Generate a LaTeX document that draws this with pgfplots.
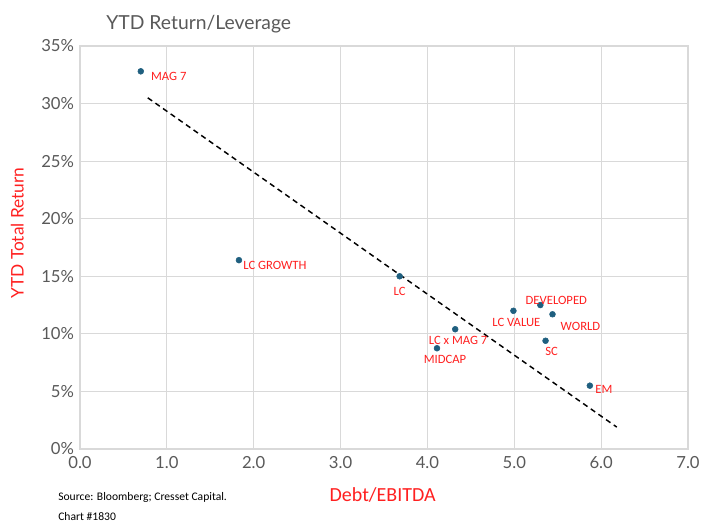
\documentclass[border=0pt]{standalone}
\usepackage{pgfplots}
\usepackage{pgfplotstable}
\pgfplotsset{compat=1.18}
\usepackage{fontspec}
\setmainfont{Lato}
\newfontfamily\lblfont{Carlito}
\definecolor{dotc}{HTML}{1F5F7F}
\definecolor{lblred}{HTML}{FF2020}
\definecolor{tickc}{HTML}{595959}
\definecolor{gridc}{HTML}{D9D9D9}

\pgfplotstableread[col sep=comma]{
x,y,dx,dy,label
0.70,32.8,21.0,-3.8,MAG 7
1.83,16.4,27.0,-4.3,LC GROWTH
3.68,15.0,0.0,-11.5,LC
4.32,10.4,2.2,-8.3,LC x MAG 7
4.11,8.75,6.0,-8.3,MIDCAP
4.99,12.0,2.2,-9.0,LC VALUE
5.30,12.5,12.0,3.8,DEVELOPED
5.44,11.7,21.0,-9.0,WORLD
5.36,9.4,4.5,-8.3,SC
5.87,5.5,10.5,-3.0,EM
}\pts

\pgfplotstableread{
x y
0.78 30.5
6.18 1.9
}\trend

\begin{document}
\begin{tikzpicture}
\begin{axis}[
  scale only axis,
  width=456pt, height=302.25pt,
  xmin=0, xmax=7, ymin=0, ymax=35,
  xtick={0,1,...,7}, ytick={0,5,...,35},
  grid=major,
  grid style={gridc, line width=0.8pt},
  axis line style={gridc, line width=0.8pt},
  tick style={draw=none},
  /pgf/number format/assume math mode=true,
  ticklabel style={font=\fontsize{12.5}{14}\selectfont, text=tickc},
  xticklabel style={/pgf/number format/.cd, fixed, fixed zerofill, precision=1},
  yticklabel={\pgfmathprintnumber{\tick}\%},
  xticklabel shift=2pt,
  yticklabel shift=1pt,
]
\addplot[black, line width=1.1pt, dash pattern=on 4pt off 3pt] table {\trend};
\addplot[only marks, mark=*, mark size=2.2pt, mark options={draw=dotc, fill=dotc},
  point meta=explicit symbolic,
  visualization depends on={\thisrow{dx} \as \dx},
  visualization depends on={\thisrow{dy} \as \dy},
  nodes near coords,
  nodes near coords style={anchor=center, xshift=\dx pt, yshift=\dy pt,
     font=\lblfont\fontsize{9.5}{11}\selectfont, text=lblred, inner sep=0pt},
] table[x=x, y=y, meta=label] {\pts};
\end{axis}
\node[anchor=center, text=tickc, font=\fontsize{14.5}{17}\selectfont] at (89pt,319pt) {YTD Return/Leverage};
\node[rotate=90, anchor=center, text=lblred, font=\fontsize{13}{15}\selectfont] at (-47pt,162pt) {YTD Total Return};
\node[anchor=center, text=lblred, font=\lblfont\fontsize{15}{17}\selectfont] at (227pt,-34.5pt) {Debt/EBITDA};
\node[anchor=west, inner sep=0pt, text=black, font=\lblfont\fontsize{8.7}{10}\selectfont] at (-16.5pt,-36pt) {Source: Bloomberg; Cresset Capital.};
\node[anchor=west, inner sep=0pt, text=black, font=\lblfont\fontsize{8.7}{10}\selectfont] at (-16.5pt,-51pt) {Chart \#1830};
\pgfresetboundingbox
\path[use as bounding box] (-60pt,-58.5pt) rectangle (483.75pt,336.75pt);
\end{tikzpicture}
\end{document}
